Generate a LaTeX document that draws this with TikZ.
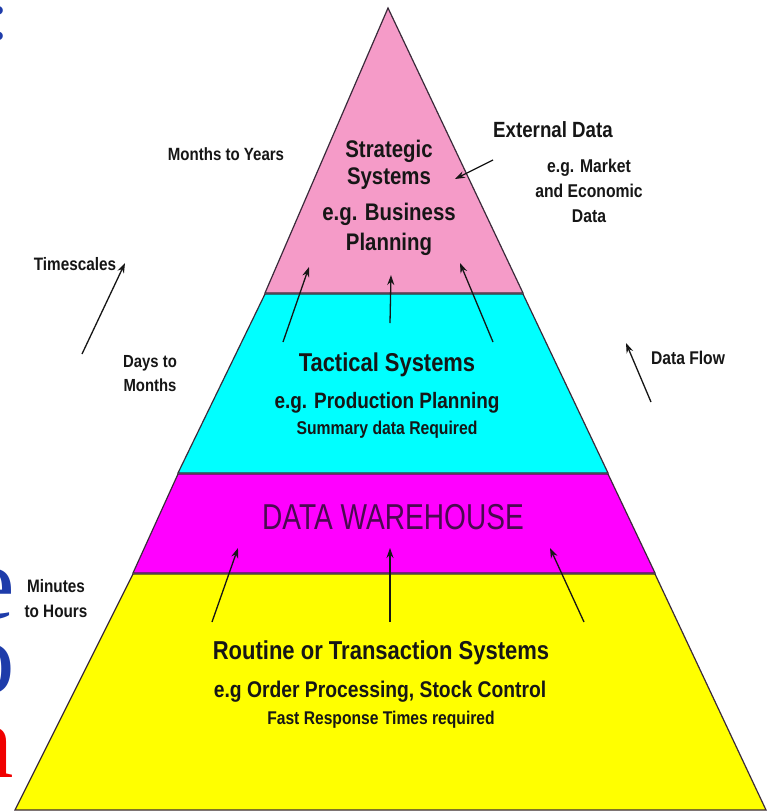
\documentclass[tikz,border=0pt]{standalone}
\usepackage{fontspec}
\setmainfont{Liberation Sans}[FakeStretch=0.85]
\newfontfamily\dwfont{Liberation Sans}[FakeStretch=0.78]
\newfontfamily\slidefont{Liberation Serif}
\usetikzlibrary{arrows.meta}
\definecolor{pinkband}{HTML}{F59BC8}
\definecolor{cyanband}{HTML}{00FFFF}
\definecolor{magband}{HTML}{FF00FF}
\definecolor{yelband}{HTML}{FFFF00}
\definecolor{edgeink}{HTML}{3A2A3A}
\definecolor{ink}{HTML}{161616}
\definecolor{dwink}{HTML}{4A0A50}
\definecolor{slideblue}{HTML}{1E3CAA}
\definecolor{slidered}{HTML}{F00000}
\newcommand{\setfs}[1]{\fontsize{#1}{#1}\selectfont}
\tikzset{
  band/.style={draw=edgeink, line width=1.2pt, line join=miter},
  lbl/.style={inner sep=0pt, anchor=base, text=ink, font=\bfseries\setfs{#1}},
  flow/.style={draw=ink, line width=1.3pt, -{Stealth[length=10pt,width=7pt]}},
  slide/.style={inner sep=0pt, text height=0.47em, text depth=0pt, font=\slidefont\setfs{#1}},
}
\begin{document}
\begin{tikzpicture}[x=1pt,y=-1pt]
\useasboundingbox (0,0) rectangle (769,812);
\begin{scope}
\clip (0,0) rectangle (769,812);
\fill[white] (0,0) rectangle (769,812);

% bands
\path[band, fill=yelband] (133,574) -- (655,574) -- (766,810) -- (15,810) -- cycle;
\path[band, fill=magband] (178,474) -- (608,474) -- (655,573) -- (133,573) -- cycle;
\path[band, fill=cyanband] (265,294) -- (523,294) -- (608,473) -- (178,473) -- cycle;
\path[band, fill=pinkband] (388,8) -- (523,293) -- (265,293) -- cycle;

% partial slide letters on the left edge
\node[slide=70, text=slideblue, anchor=base west] (sc) at (-10.5,39) {:};
\node[slide=105, text=slideblue, anchor=base east] (se) at (15,618) {e};
\node[slide=105, text=slideblue, anchor=base east] (so) at (15,693) {o};
\node[slide=105, text=slidered, anchor=base east] (sn) at (14,777) {n};

% strategic
\node[lbl=24] (s1) at (389,157) {Strategic};
\node[lbl=24] (s2) at (389,184) {Systems};
\node[lbl=24] (s3) at (389,220) {e.g. Business};
\node[lbl=24] (s4) at (389,250) {Planning};

\node[lbl=17.7] (my) at (226,160) {Months to Years};
\node[lbl=22] (ext) at (553,137) {External Data};
\node[lbl=18.5] (ex1) at (589,172) {e.g. Market};
\node[lbl=18.5] (ex2) at (589,197) {and Economic};
\node[lbl=18.5] (ex3) at (589,222) {Data};

\node[lbl=18] (ts) at (75,270) {Timescales};
\node[lbl=17.5] (dm1) at (150,367) {Days to};
\node[lbl=17.5] (dm2) at (150,391) {Months};
\node[lbl=18.4] (df) at (688,364) {Data Flow};

% tactical
\node[lbl=25.8] (t1) at (387,371) {Tactical Systems};
\node[lbl=22.3] (t2) at (387,408) {e.g. Production Planning};
\node[lbl=18.5] (t3) at (387,434) {Summary data Required};

% warehouse
\node[inner sep=0pt, anchor=base, text=dwink, font=\dwfont\setfs{36}] (dw) at (393,529) {DATA WAREHOUSE};

\node[lbl=18] (mh1) at (56,592) {Minutes};
\node[lbl=18] (mh2) at (56,617) {to Hours};

% routine
\node[lbl=25.9] (r1) at (381,659) {Routine or Transaction Systems};
\node[lbl=22.7] (r2) at (380,697) {e.g Order Processing, Stock Control};
\node[lbl=18.4] (r3) at (381,724) {Fast Response Times required};

% arrow end points
\coordinate (tsA) at (82,354);   \coordinate (tsB) at (125,263);
\coordinate (dfA) at (651,402);  \coordinate (dfB) at (626,343);
\coordinate (exA) at (493,160);  \coordinate (exB) at (455,179);
\coordinate (pLA) at (283,342);  \coordinate (pLB) at (309,267);
\coordinate (pMA) at (390,323);  \coordinate (pMB) at (391,275);
\coordinate (pRA) at (493,342);  \coordinate (pRB) at (460,263);
\coordinate (mLA) at (212,622);  \coordinate (mLB) at (238,548);
\coordinate (mMA) at (390,622);  \coordinate (mMB) at (390,548);
\coordinate (mRA) at (584,622);  \coordinate (mRB) at (550,548);

\draw[flow] (tsA) -- (tsB);
\draw[flow] (dfA) -- (dfB);
\draw[flow] (exA) -- (exB);
\draw[flow] (pLA) -- (pLB);
\draw[flow] (pMA) -- (pMB);
\draw[flow] (pRA) -- (pRB);
\draw[flow] (mLA) -- (mLB);
\draw[flow] (mMA) -- (mMB);
\draw[flow] (mRA) -- (mRB);
\end{scope}
\end{tikzpicture}
\end{document}
